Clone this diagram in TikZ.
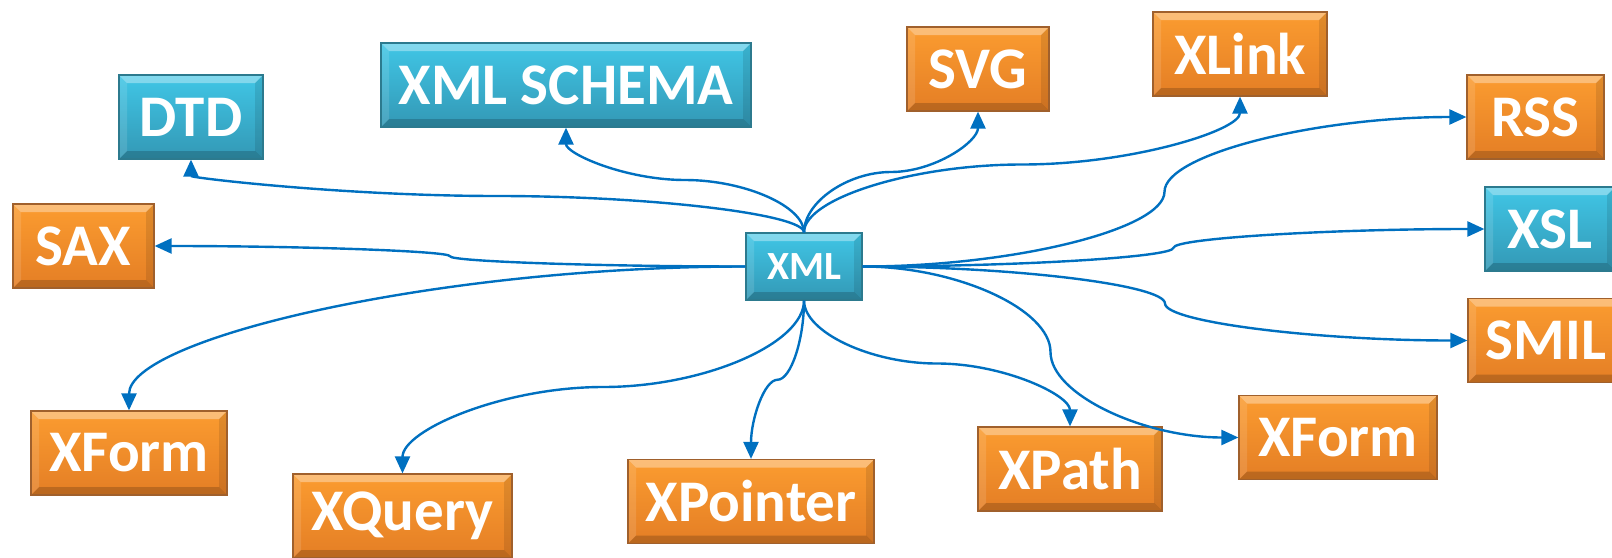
\documentclass[tikz,border=0pt]{standalone}
\usepackage{fontspec}
\setmainfont{Carlito}
\usetikzlibrary{arrows.meta,calc}
\definecolor{linkblue}{HTML}{0070C0}
\definecolor{orangetop}{HTML}{FB9C30}
\definecolor{orangebot}{HTML}{E47E25}
\definecolor{orangeline}{HTML}{A0602C}
\definecolor{bluetop}{HTML}{40C6E6}
\definecolor{bluebot}{HTML}{3398B5}
\definecolor{blueline}{HTML}{2C7A8E}

\begin{document}
\begin{tikzpicture}[x=1pt, y=-1pt,
  every node/.style={rectangle, minimum height=84pt, inner sep=0pt, text=white, line width=1.2pt, font=\bfseries\fontsize{59}{62}\selectfont, bevel},
  bevel/.style={path picture={
    \fill[white, opacity=.35] (path picture bounding box.north west) -- (path picture bounding box.north east) -- ([shift={(-8pt,-8pt)}]path picture bounding box.north east) -- ([shift={(8pt,-8pt)}]path picture bounding box.north west) -- cycle;
    \fill[black, opacity=.18] (path picture bounding box.south west) -- (path picture bounding box.south east) -- ([shift={(-8pt,8pt)}]path picture bounding box.south east) -- ([shift={(8pt,8pt)}]path picture bounding box.south west) -- cycle;
    \fill[white, opacity=.12] (path picture bounding box.north west) -- ([shift={(8pt,-8pt)}]path picture bounding box.north west) -- ([shift={(8pt,8pt)}]path picture bounding box.south west) -- (path picture bounding box.south west) -- cycle;
    \fill[black, opacity=.1] (path picture bounding box.north east) -- ([shift={(-8pt,-8pt)}]path picture bounding box.north east) -- ([shift={(-8pt,8pt)}]path picture bounding box.south east) -- (path picture bounding box.south east) -- cycle;
  }},
  orangebox/.style={draw=orangeline, top color=orangetop, bottom color=orangebot},
  bluebox/.style={draw=blueline, top color=bluetop, bottom color=bluebot},
  link/.style={draw=linkblue, line width=2.4pt, -{Triangle[length=17pt,width=15pt]}},
  vv/.style={to path={let \p1=(\tikztostart), \p2=(\tikztotarget) in
    .. controls (\x1,{0.75*(\y1)+0.25*(\y2)}) and ({0.75*(\x1)+0.25*(\x2)},{0.5*(\y1)+0.5*(\y2)}) .. ({0.5*(\x1)+0.5*(\x2)},{0.5*(\y1)+0.5*(\y2)})
    .. controls ({0.25*(\x1)+0.75*(\x2)},{0.5*(\y1)+0.5*(\y2)}) and (\x2,{0.25*(\y1)+0.75*(\y2)}) .. (\tikztotarget)}},
  hh/.style={to path={let \p1=(\tikztostart), \p2=(\tikztotarget) in
    .. controls ({0.75*(\x1)+0.25*(\x2)},\y1) and ({0.5*(\x1)+0.5*(\x2)},{0.75*(\y1)+0.25*(\y2)}) .. ({0.5*(\x1)+0.5*(\x2)},{0.5*(\y1)+0.5*(\y2)})
    .. controls ({0.5*(\x1)+0.5*(\x2)},{0.25*(\y1)+0.75*(\y2)}) and ({0.25*(\x1)+0.75*(\x2)},\y2) .. (\tikztotarget)}},
  hv/.style={to path={let \p1=(\tikztostart), \p2=(\tikztotarget) in
    .. controls ({0.5*(\x1)+0.5*(\x2)},\y1) and (\x2,{0.5*(\y1)+0.5*(\y2)}) .. (\tikztotarget)}}]
\useasboundingbox (0,0) rectangle (1612,557);
\node[bluebox, minimum width=116pt, minimum height=67pt, font=\bfseries\fontsize{40}{42}\selectfont] (XML) at (804,266.5) {XML};
\node[bluebox, minimum width=144pt] (DTD) at (191,117) {DTD};
\node[bluebox, minimum width=370pt] (SCHEMA) at (566,85) {XML SCHEMA};
\node[orangebox, minimum width=142pt] (SVG) at (978,69) {SVG};
\node[orangebox, minimum width=174pt] (XLINK) at (1240,54) {XLink};
\node[orangebox, minimum width=137pt] (RSS) at (1535.5,117) {RSS};
\node[bluebox, minimum width=130pt] (XSL) at (1550,229) {XSL};
\node[orangebox, minimum width=156pt] (SMIL) at (1546,340.5) {SMIL};
\node[orangebox, minimum width=198pt] (XFORMR) at (1338,437.5) {XForm};
\node[orangebox, minimum width=184pt] (XPATH) at (1070,469) {XPath};
\node[orangebox, minimum width=246pt] (XPOINTER) at (751,501.5) {XPointer};
\node[orangebox, minimum width=219pt] (XQUERY) at (402.5,516) {XQuery};
\node[orangebox, minimum width=196pt] (XFORML) at (129,453) {XForm};
\node[orangebox, minimum width=141pt] (SAX) at (83.5,246) {SAX};
\draw[link, vv] (XML.north) to (DTD.south);
\draw[link, vv] (XML.north) to (SCHEMA.south);
\draw[link, vv] (XML.north) to (SVG.south);
\draw[link, vv] (XML.north) to (XLINK.south);
\draw[link, hh] (XML.east) to (RSS.west);
\draw[link, hh] (XML.east) to (XSL.west);
\draw[link, hh] (XML.east) to (SMIL.west);
\draw[link, hh] (XML.east) to (XFORMR.west);
\draw[link, vv] (XML.south) to (XPATH.north);
\draw[link, vv] (XML.south) to (XPOINTER.north);
\draw[link, vv] (XML.south) to (XQUERY.north);
\draw[link, hv] (XML.west) to (XFORML.north);
\draw[link, hh] (XML.west) to (SAX.east);
\end{tikzpicture}
\end{document}
